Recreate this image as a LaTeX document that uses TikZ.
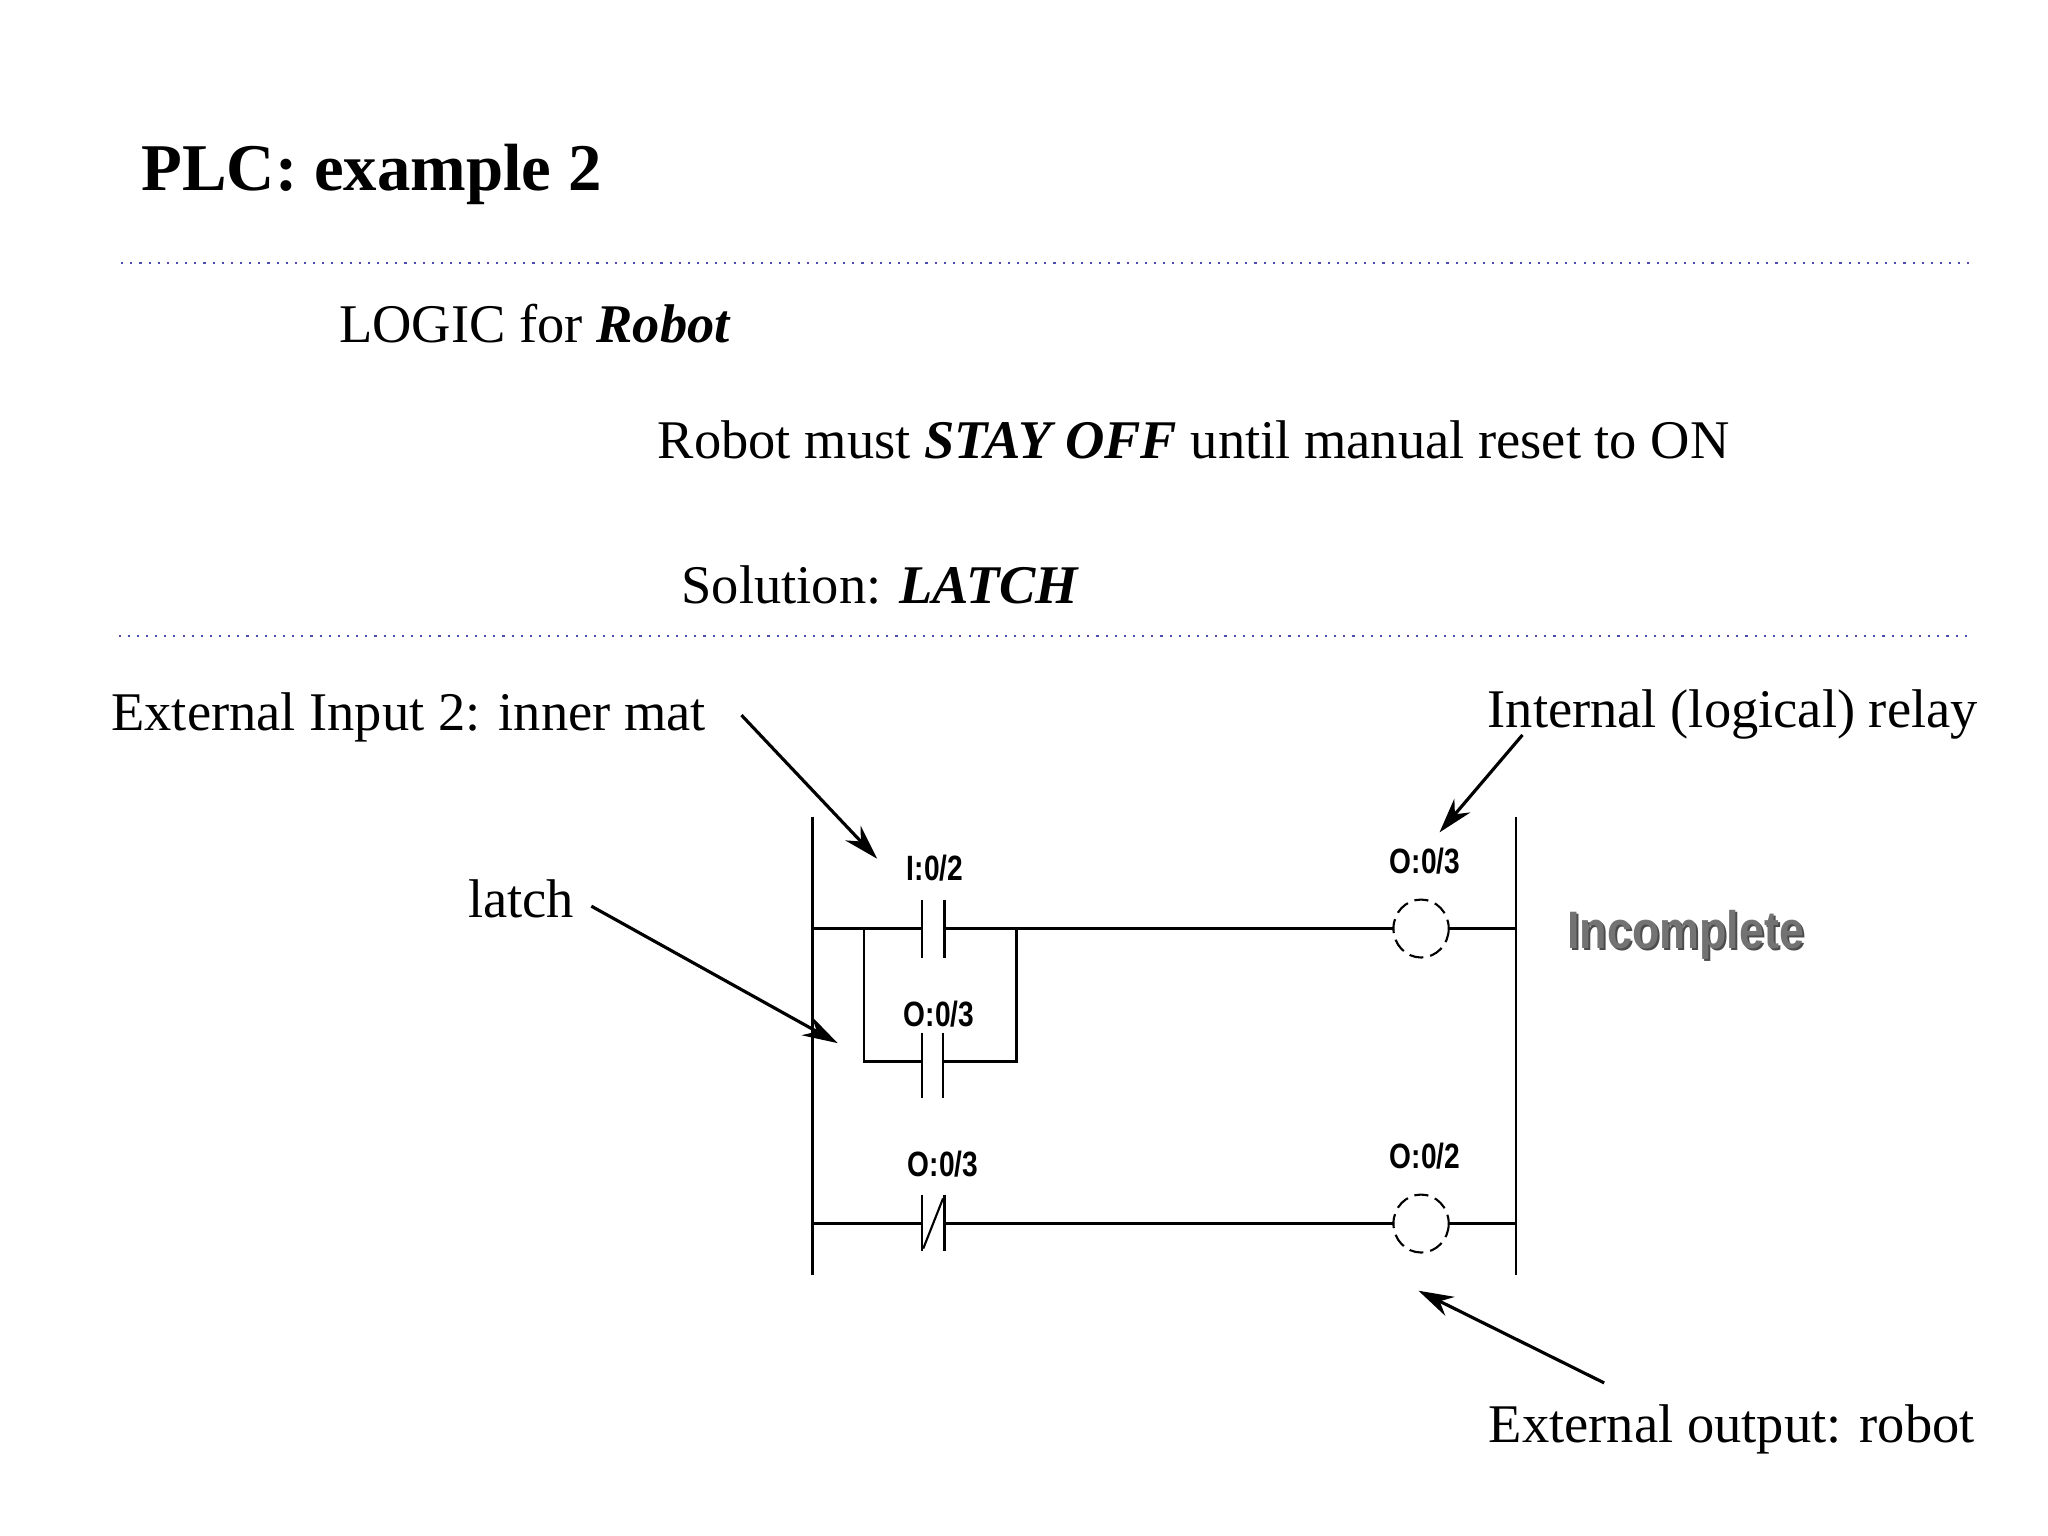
\documentclass[tikz,border=0pt]{standalone}
\usepackage{fontspec}
\setmainfont{Liberation Serif}
\newfontfamily\lab{Liberation Sans}
\usetikzlibrary{arrows.meta}
\begin{document}
\begin{tikzpicture}[x=0.01317cm,y=-0.01317cm,
  body/.style={font=\fontsize{15.5}{18}\selectfont, anchor=base west, inner sep=0},
  tag/.style={font=\lab\bfseries\fontsize{10}{12}\selectfont, xscale=0.8, inner sep=0},
  ptr/.style={-{Stealth[length=10pt,width=6pt]}, line width=0.9pt},
  rung/.style={line width=0.8pt},
  coil/.style={dashed, dash pattern=on 4pt off 2pt, line width=0.6pt},
  sep/.style={draw=blue!40!gray, dotted, line width=0.6pt}]
\useasboundingbox (0,0) rectangle (1555,1166);
\node[body, font=\bfseries\fontsize{19}{22}\selectfont] (title) at (107,145) {PLC: example 2};
\draw[sep] (92,200) -- (1498,200);
\node[body] (logic) at (257,260) {LOGIC for \textbf{\textit{Robot}}};
\node[body] (must) at (499,348) {Robot must \textbf{\textit{STAY OFF}} until manual reset to ON};
\node[body] (sol) at (517,458) {Solution: \textbf{\textit{LATCH}}};
\draw[sep] (90,483) -- (1497,483);

\node[body] (ext) at (84,555) {External Input 2: inner mat};
\node[body] (int) at (1129,552) {Internal (logical) relay};
\node[body] (latch) at (355,697) {latch};
\node[body] (out) at (1130,1095) {External output: robot};

% rails
\coordinate (L1) at (617,620); \coordinate (L2) at (617,968);
\coordinate (R1) at (1151,620); \coordinate (R2) at (1151,968);
\draw[rung] (L1) -- (L2); \draw[rung] (R1) -- (R2);
% rung 1
\draw[rung] (617,705) -- (700,705) (717,705) -- (1058,705) (1100,705) -- (1151,705);
\draw[rung] (700,683) -- (700,727) (717,683) -- (717,727);
\draw[rung] (656,705) -- (656,806) -- (700,806) (716,806) -- (772,806) -- (772,705);
\draw[rung] (700,784) -- (700,834) (716,784) -- (716,834);
\draw[coil] (1079,705) ellipse [x radius=21, y radius=22];
\node[tag] (t1) at (710,659) {I:0/2};
\node[tag] (t2) at (713,770) {O:0/3};
\node[tag] (t3) at (1082,654) {O:0/3};
% rung 2
\draw[rung] (617,929) -- (700,929) (717,929) -- (1058,929) (1100,929) -- (1151,929);
\draw[rung] (700,907) -- (700,950) (717,907) -- (717,950);
\draw[line width=0.6pt] (701,948) -- (716,910);
\draw[coil] (1079,929) ellipse [x radius=21, y radius=22];
\node[tag] (t4) at (716,884) {O:0/3};
\node[tag] (t5) at (1082,878) {O:0/2};
% incomplete
\node[font=\lab\bfseries\fontsize{15}{18}\selectfont, text=black!50, xscale=0.85, inner sep=0] at (1281.5,711.5) {\textcolor{black!70}{Incomplete}};
\node[font=\lab\bfseries\fontsize{15}{18}\selectfont, text=black!55, xscale=0.85, inner sep=0] (inc) at (1280,710) {Incomplete};
% pointers
\coordinate (a1) at (666,652); \coordinate (a2) at (1093,632);
\coordinate (a3) at (636,792); \coordinate (a4) at (1077,980);
\draw[ptr] (563,543) -- (a1);
\draw[ptr] (1156,558) -- (a2);
\draw[ptr] (449,688) -- (a3);
\draw[ptr] (1218,1050) -- (a4);
\end{tikzpicture}
\end{document}
